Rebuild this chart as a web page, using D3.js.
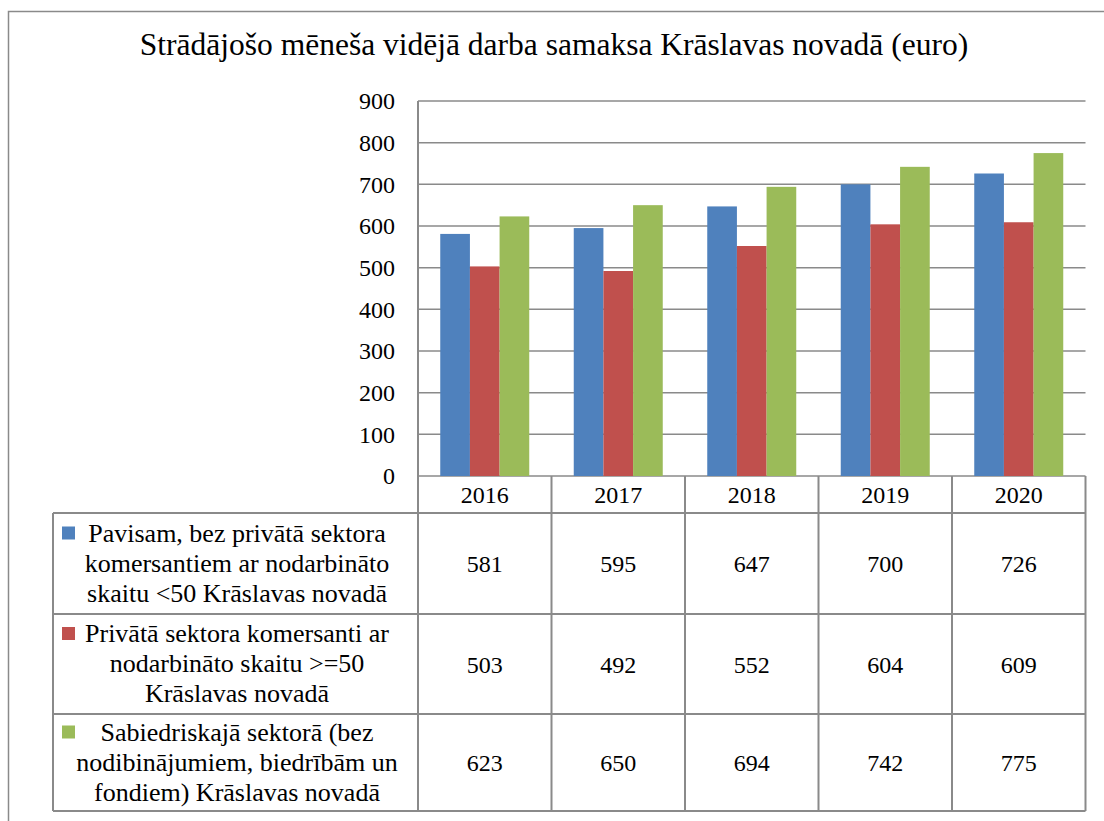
<!DOCTYPE html>
<html>
<head>
<meta charset="utf-8">
<script src="https://cdn.jsdelivr.net/npm/d3@7"></script>
<style>
  body { margin: 0; background: #fff; }
  svg { display: block; }
  text { font-family: "Liberation Serif", "Times New Roman", Times, serif; }
</style>
</head>
<body>
<svg id="chart" width="1104" height="821"></svg>
<script>
/* data */
var years = ["2016", "2017", "2018", "2019", "2020"];
var seriesNames = [
  ["Pavisam, bez privātā sektora", "komersantiem ar nodarbināto", "skaitu <50 Krāslavas novadā"],
  ["Privātā sektora komersanti ar", "nodarbināto skaitu >=50", "Krāslavas novadā"],
  ["Sabiedriskajā sektorā (bez", "nodibinājumiem, biedrībām un", "fondiem) Krāslavas novadā"]
];
var totalValues = [581, 595, 647, 700, 726];
var privateValues = [503, 492, 552, 604, 609];
var publicValues = [623, 650, 694, 742, 775];
var yTicks = [0, 100, 200, 300, 400, 500, 600, 700, 800, 900];
var colors = ["#4F81BD", "#C0504D", "#9BBB59"];

var series = [totalValues, privateValues, publicValues];

var svg = d3.select("#chart");
var lineColor = "#8a8a8a";

/* outer frame */
svg.append("rect")
  .attr("x", 8.5).attr("y", 11.5)
  .attr("width", 1120).attr("height", 840)
  .attr("fill", "none").attr("stroke", lineColor).attr("stroke-width", 1.5);

/* title */
svg.append("text")
  .attr("x", 554).attr("y", 55)
  .attr("text-anchor", "middle")
  .attr("font-size", 31.5)
  .text("Strādājošo mēneša vidējā darba samaksa Krāslavas novadā (euro)");

/* scales */
var plotLeft = 418, plotRight = 1085.5, plotTop = 101, plotBottom = 476;
var x0 = d3.scaleBand().domain(years).range([plotLeft, plotRight]).padding(0);
var x1 = d3.scaleBand().domain([0, 1, 2]).range([0, x0.bandwidth()])
  .paddingInner(0).paddingOuter(0.75);
var y = d3.scaleLinear().domain([0, 900]).range([plotBottom, plotTop]);

/* gridlines */
svg.append("g").selectAll("line")
  .data(yTicks)
  .enter().append("line")
  .attr("x1", plotLeft).attr("x2", plotRight)
  .attr("y1", function(d) { return y(d); })
  .attr("y2", function(d) { return y(d); })
  .attr("stroke", lineColor).attr("stroke-width", 1.5);

/* y tick labels */
svg.append("g").selectAll("text")
  .data(yTicks)
  .enter().append("text")
  .attr("x", 395)
  .attr("y", function(d) { return y(d); })
  .attr("dy", "0.35em")
  .attr("text-anchor", "end")
  .attr("font-size", 24)
  .text(function(d) { return d; });

/* bars */
var groups = svg.append("g").selectAll("g")
  .data(years)
  .enter().append("g")
  .attr("transform", function(d) { return "translate(" + x0(d) + ",0)"; });

groups.selectAll("rect")
  .data(function(d, i) { return series.map(function(s, k) { return { k: k, v: s[i] }; }); })
  .enter().append("rect")
  .attr("x", function(d) { return x1(d.k); })
  .attr("width", x1.bandwidth())
  .attr("y", function(d) { return y(d.v); })
  .attr("height", function(d) { return y(0) - y(d.v); })
  .attr("fill", function(d) { return colors[d.k]; });

/* data table */
var tableLeft = 53;
var rowEdges = [476, 513, 614, 714, 811];
var table = svg.append("g");

// horizontal lines
table.selectAll("line.h")
  .data(rowEdges.slice(1))
  .enter().append("line")
  .attr("class", "h")
  .attr("x1", tableLeft).attr("x2", plotRight)
  .attr("y1", function(d) { return d; }).attr("y2", function(d) { return d; })
  .attr("stroke", lineColor).attr("stroke-width", 2);

// vertical lines between year columns (and plot left edge)
var colEdges = years.map(function(d) { return x0(d); }).concat([plotRight]);
table.selectAll("line.v")
  .data(colEdges)
  .enter().append("line")
  .attr("class", "v")
  .attr("x1", function(d) { return d; }).attr("x2", function(d) { return d; })
  .attr("y1", function(d, i) { return i === 0 ? plotTop : plotBottom; })
  .attr("y2", rowEdges[4])
  .attr("stroke", lineColor).attr("stroke-width", 2);

table.append("line")
  .attr("x1", tableLeft).attr("x2", tableLeft)
  .attr("y1", rowEdges[1]).attr("y2", rowEdges[4])
  .attr("stroke", lineColor).attr("stroke-width", 2);

// year labels
table.selectAll("text.year")
  .data(years)
  .enter().append("text")
  .attr("class", "year")
  .attr("x", function(d) { return x0(d) + x0.bandwidth() / 2; })
  .attr("y", (rowEdges[0] + rowEdges[1]) / 2)
  .attr("dy", "0.36em")
  .attr("text-anchor", "middle")
  .attr("font-size", 24)
  .text(function(d) { return d; });

// series rows
series.forEach(function(vals, k) {
  var top = rowEdges[k + 1], bottom = rowEdges[k + 2];
  var mid = (top + bottom) / 2;
  var row = table.append("g");

  row.selectAll("text.val")
    .data(vals)
    .enter().append("text")
    .attr("class", "val")
    .attr("x", function(d, i) { return x0(years[i]) + x0.bandwidth() / 2; })
    .attr("y", mid)
    .attr("dy", "0.36em")
    .attr("text-anchor", "middle")
    .attr("font-size", 24)
    .text(function(d) { return d; });

  var lines = seriesNames[k];
  row.selectAll("text.lbl")
    .data(lines)
    .enter().append("text")
    .attr("class", "lbl")
    .attr("x", 237)
    .attr("y", function(d, i) { return mid + 8 + (i - 1) * 30; })
    .attr("text-anchor", "middle")
    .attr("font-size", 26)
    .text(function(d) { return d; });

  // legend key
  row.append("rect")
    .attr("x", 62).attr("y", mid + 8 - 30 - 15)
    .attr("width", 13).attr("height", 13)
    .attr("fill", colors[k]);
});
</script>
</body>
</html>
